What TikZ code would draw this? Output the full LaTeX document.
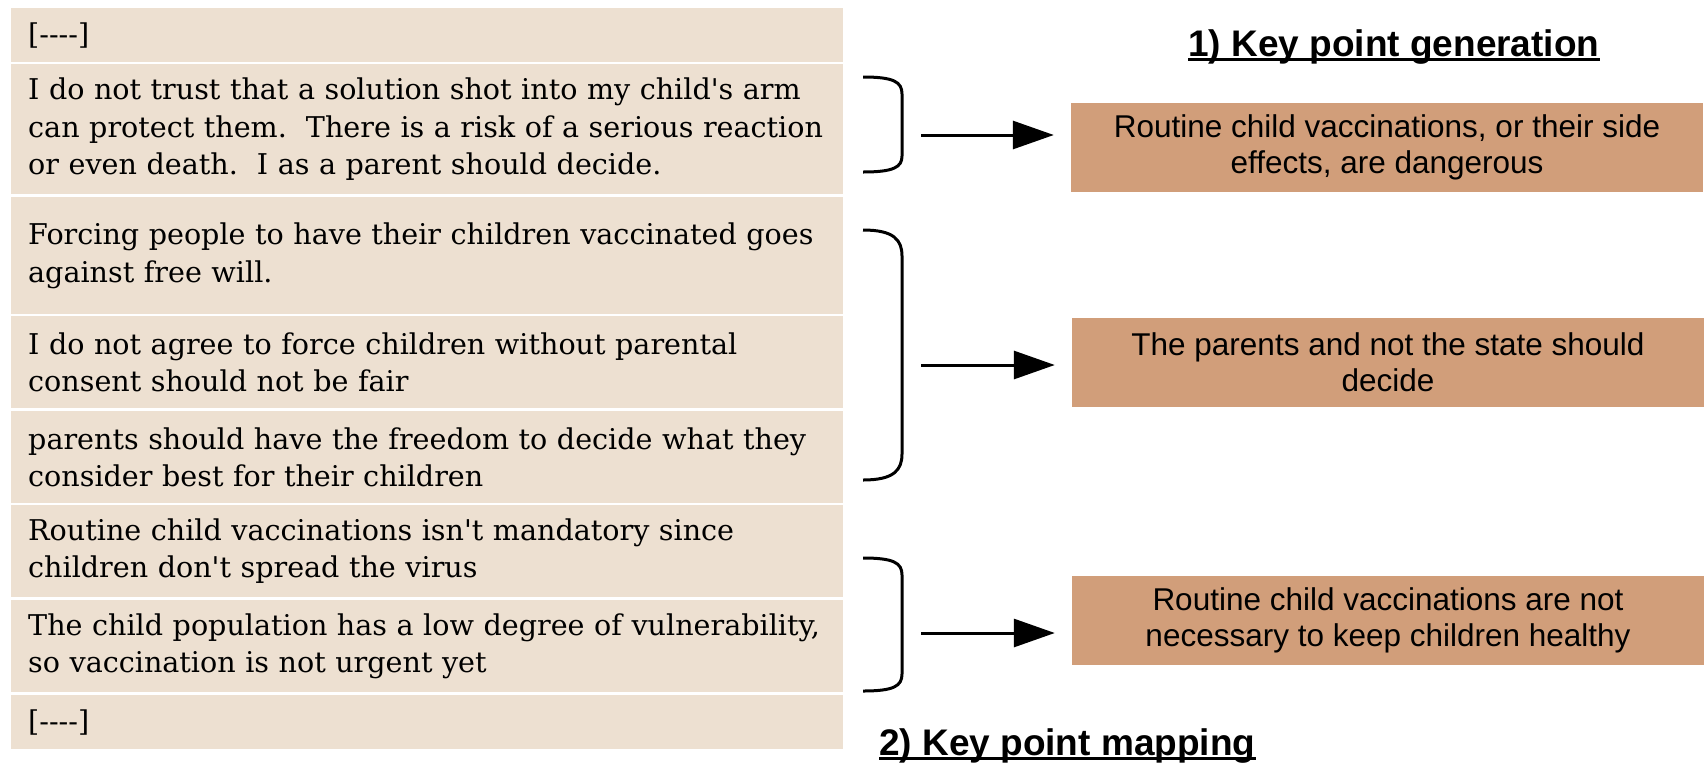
\documentclass[tikz,border=0pt]{standalone}
\usepackage{fontspec}
\setmainfont{DejaVu Serif}
\newfontfamily\boxsans{Liberation Sans}
\usetikzlibrary{positioning}
\usetikzlibrary{arrows.meta}
\definecolor{rowfill}{RGB}{237,224,209}
\definecolor{keyfill}{RGB}{209,158,122}
\newcommand{\ap}{\textquotesingle}
\newcommand{\elided}{[-{}-{}-{}-]}
\tikzset{
	argrow/.style={fill=rowfill, anchor=north west, minimum width=832pt, text width=798pt,
		inner xsep=17pt, inner ysep=0pt, align=left, font=\fontsize{28.6}{37.5}\selectfont},
	keypoint/.style={fill=keyfill, minimum width=632pt, minimum height=89pt,
		inner sep=0pt, align=center, font=\boxsans\fontsize{31.5}{36}\selectfont},
	heading/.style={anchor=base west, inner sep=0pt, font=\boxsans\bfseries\fontsize{37}{42}\selectfont},
	headline/.style={line width=2.5pt},
	bracket/.style={line width=3pt},
	maparrow/.style={line width=3pt, -{Triangle[length=41pt,width=28pt]}, shorten <=19pt, shorten >=17pt}
}

\begin{document}
\begin{tikzpicture}[x=1pt, y=-1pt]
\useasboundingbox (0,0) rectangle (1708,766);

% Arguments
\node[argrow, minimum height=54pt] (r1) at (11,8) {\elided};
\node[argrow, minimum height=130pt] (r2) at (11,64) {I do not trust that a solution shot into my child\ap s arm\\ can protect them.\ \ There is a risk of a serious reaction\\ or even death.\ \ I as a parent should decide.};
\node[argrow, minimum height=117pt] (r3) at (11,197) {Forcing people to have their children vaccinated goes\\ against free will.};
\node[argrow, minimum height=92pt] (r4) at (11,316) {I do not agree to force children without parental\\ consent should not be fair};
\node[argrow, minimum height=92pt] (r5) at (11,411) {parents should have the freedom to decide what they\\ consider best for their children};
\node[argrow, minimum height=92pt] (r6) at (11,505) {Routine child vaccinations isn\ap t mandatory since\\ children don\ap t spread the virus};
\node[argrow, minimum height=92pt] (r7) at (11,600) {The child population has a low degree of vulnerability,\\ so vaccination is not urgent yet};
\node[argrow, minimum height=54pt] (r8) at (11,695) {\elided};

% Key points
\node[heading] (gen) at (1188,56) {1) Key point generation};
\draw[headline] ([yshift=-3.5pt]gen.base west) -- ([yshift=-3.5pt]gen.base east);
\node[keypoint] (k1) at (1387,147) {Routine child vaccinations, or their side\\ effects, are dangerous};
\node[keypoint] (k2) at (1388,362) {The parents and not the state should\\ decide};
\node[keypoint] (k3) at (1388,620) {Routine child vaccinations are not\\ necessary to keep children healthy};
\node[heading] (map) at (879,755) {2) Key point mapping};
\draw[headline] ([yshift=-3.5pt]map.base west) -- ([yshift=-3.5pt]map.base east);

% Brackets
\draw[bracket] (863,77) .. controls (894,77) and (902,82) .. (902,94) -- (902,156) .. controls (902,167) and (894,172) .. (863,172);
\draw[bracket] (863,230) .. controls (894,230) and (902,240) .. (902,256) -- (902,454) .. controls (902,470) and (894,480) .. (863,480);
\draw[bracket] (863,558) .. controls (894,558) and (902,563) .. (902,575) -- (902,674) .. controls (902,686) and (894,691) .. (863,691);
\coordinate (c1) at (902,135);
\coordinate (c2) at (902,365);
\coordinate (c3) at (902,633);

% Mapping
\draw[maparrow] (c1) -- (c1 -| k1.west);
\draw[maparrow] (c2) -- (c2 -| k2.west);
\draw[maparrow] (c3) -- (c3 -| k3.west);
\end{tikzpicture}
\end{document}
